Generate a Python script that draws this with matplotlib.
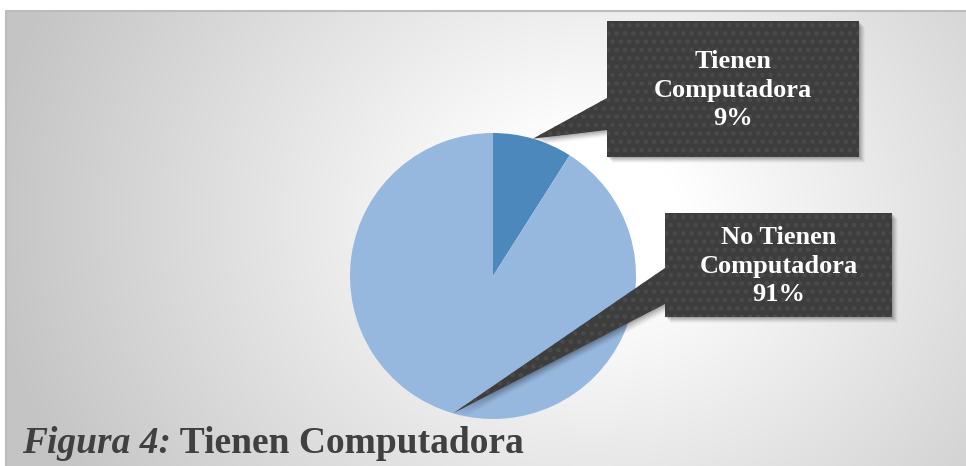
import numpy as np
import matplotlib.pyplot as plt
from matplotlib.patches import Polygon

labels = ["Tienen\nComputadora", "No Tienen\nComputadora"]
values = [9, 91]
colors = ["#4d88bd", "#96b7de"]
title_a = "Figura 4:"
title_b = " Tienen Computadora"

W, H = 966, 466
fig = plt.figure(figsize=(W / 100, H / 100), dpi=100)
fig.patch.set_facecolor("white")
plt.rcParams["hatch.linewidth"] = 2.0

# background panel with radial gradient (pixel coordinates)
bg = fig.add_axes([0, 0, 1, 1])
bg.set_xlim(0, W)
bg.set_ylim(H, 0)
bg.axis("off")
yy, xx = np.mgrid[0:H, 0:W]
d = np.hypot(xx - 590, (yy - 210) * 1.15)
g = 1 - 0.23 * np.clip((d - 90) / 520, 0, 1)
img = np.dstack([g, g, g])
bg.imshow(img, extent=(6, W, H, 11), zorder=0)
bg.plot([6, 6, W], [H, 11, 11], color="#bcbcbc", lw=1.5, zorder=1)

# pie
cx, cy, r = 493, 276, 143
ax = fig.add_axes([(cx - r) / W, (H - cy - r) / H, 2 * r / W, 2 * r / H])
wedges, _ = ax.pie(values, colors=colors, startangle=90, counterclock=False,
                   radius=1, wedgeprops=dict(linewidth=0))
ax.set_xlim(-1, 1)
ax.set_ylim(-1, 1)
ax.axis("off")

# overlay for callouts and caption
ov = fig.add_axes([0, 0, 1, 1])
ov.set_xlim(0, W)
ov.set_ylim(H, 0)
ov.axis("off")
ov.patch.set_alpha(0)

boxes = [(607, 21, 859, 157, 98, 130), (665, 213, 892, 317, 268, 304)]
for w, lab, val, (x0, y0, x1, y1, b0, b1) in zip(wedges, labels, values, boxes):
    ang = np.deg2rad((w.theta1 + w.theta2) / 2)
    tx, ty = cx + r * np.cos(ang), cy - r * np.sin(ang)
    pts = [(x0, y0), (x1, y0), (x1, y1), (x0, y1), (x0, b1), (tx, ty), (x0, b0)]
    for k, a in zip(range(6, 0, -1), [0.05, 0.07, 0.09, 0.11, 0.13, 0.15]):
        sh = [(px + k, py + k) for px, py in pts]
        ov.add_patch(Polygon(sh, closed=True, facecolor="#000000", alpha=a * 0.6,
                             lw=0, zorder=3))
    ov.add_patch(Polygon(pts, closed=True, facecolor="#3d3d3d", lw=0, zorder=4))
    ov.add_patch(Polygon(pts, closed=True, facecolor="none", edgecolor="#4a4a4a",
                         hatch="..", lw=0, zorder=5))
    ov.text((x0 + x1) / 2, (y0 + y1) / 2 + 1, f"{lab}\n{val}%", ha="center",
            va="center", color="white", fontsize=19, fontweight="bold",
            family="Liberation Serif", linespacing=1.3, zorder=6)

# caption
t1 = ov.text(22, 461, title_a, fontsize=27, fontweight="bold", style="italic",
             family="Liberation Serif", color="#404040", va="bottom", zorder=7)
ov.annotate(title_b, xy=(1, 0), xycoords=t1, fontsize=27, fontweight="bold",
            family="Liberation Serif", color="#404040", va="bottom", zorder=7)

fig.savefig("out.png", dpi=100)
